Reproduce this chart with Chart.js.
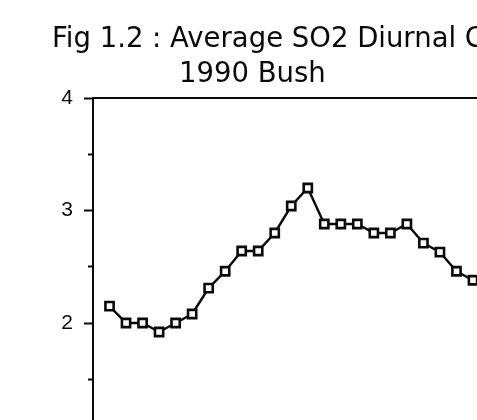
<!DOCTYPE html>
<html><head><meta charset="utf-8">
<script src="https://cdn.jsdelivr.net/npm/chart.js@4"></script>
<style>
html,body{margin:0;padding:0;background:#fff;overflow:hidden}
canvas{display:block;background:#fff}
</style>
</head><body>
<canvas id="c" width="592" height="600"></canvas>
<script>
// ---- data ----
const titleLine1 = "Fig 1.2 : Average SO2 Diurnal Cycle";
const titleLine2 = "1990 Bush          ";
const hours = [1,2,3,4,5,6,7,8,9,10,11,12,13,14,15,16,17,18,19,20,21,22,23,24];
const so2 = [2.15,2.00,2.00,1.92,2.00,2.08,2.31,2.46,2.64,2.64,2.80,3.04,3.20,2.88,2.88,2.88,2.80,2.80,2.88,2.71,2.63,2.46,2.38,2.30];
const yMin = 0, yMax = 4;
const xMin = 0, xMax = 24;

const points = hours.map((h, i) => ({x: h, y: so2[i]}));
const ink = '#0a0a0a';

new Chart(document.getElementById('c'), {
  type: 'line',
  data: {
    datasets: [
      {
        data: points,
        borderColor: ink,
        borderWidth: 2.4,
        tension: 0,
        pointStyle: 'rect',
        pointRadius: 5.8,
        pointBorderWidth: 2.6,
        pointBackgroundColor: '#fff',
        pointBorderColor: ink,
        xAxisID: 'x', yAxisID: 'y'
      },
      {
        data: points,
        showLine: false,
        pointStyle: 'rect',
        pointRadius: 1.5,
        pointBorderWidth: 0,
        pointBackgroundColor: ink,
        xAxisID: 'x', yAxisID: 'y'
      }
    ]
  },
  options: {
    responsive: false,
    animation: false,
    events: [],
    layout: {padding: 0},
    plugins: {
      legend: {display: false},
      tooltip: {enabled: false},
      title: {
        display: true,
        fullSize: true,
        text: [titleLine1, titleLine2],
        color: ink,
        font: {family: 'DejaVu Sans', size: 27.5, weight: 'normal', lineHeight: 1.28},
        padding: {top: 22.2, bottom: 5.4}
      }
    },
    scales: {
      x: {
        type: 'linear', position: 'bottom', min: xMin, max: xMax,
        ticks: {stepSize: 2, color: ink, font: {family: 'Liberation Sans', size: 18}},
        grid: {drawOnChartArea: false, tickLength: 8, tickColor: ink, tickWidth: 2},
        border: {display: true, color: ink, width: 2},
        afterFit: s => { s.height = 52; }
      },
      x2: {
        type: 'linear', position: 'top', min: xMin, max: xMax,
        ticks: {display: false},
        grid: {display: true, drawOnChartArea: false, drawTicks: false},
        border: {display: true, color: ink, width: 2},
        afterFit: s => { s.height = 0; }
      },
      y: {
        type: 'linear', position: 'left', min: yMin, max: yMax,
        ticks: {
          stepSize: 0.5, padding: 11, color: ink,
          font: {family: 'Liberation Sans', size: 21},
          callback: v => Number.isInteger(v) ? String(v) : ''
        },
        grid: {
          drawOnChartArea: false, tickLength: 9, tickColor: ink, tickWidth: 2,
          tickBorderDash: ctx => (ctx.tick && !Number.isInteger(ctx.tick.value)) ? [0, 4, 5, 0] : []
        },
        border: {display: true, color: ink, width: 2},
        afterFit: s => { s.width = 93; }
      },
      y2: {
        type: 'linear', position: 'right', min: yMin, max: yMax,
        ticks: {display: false},
        grid: {display: true, drawOnChartArea: false, drawTicks: false},
        border: {display: true, color: ink, width: 2},
        afterFit: s => { s.width = 102.5; }
      }
    }
  }
});
</script>
</body></html>
